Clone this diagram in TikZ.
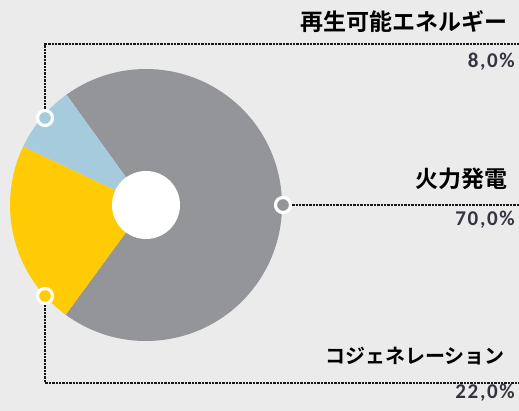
\documentclass[tikz,border=0pt]{standalone}
\usepackage{fontspec}
\newfontfamily\jpfont{Noto Sans CJK JP}[BoldFont={Noto Sans CJK JP Bold}]
\newfontfamily\pctfont{Carlito}[LetterSpace=8]
\definecolor{bg}{HTML}{EBEBEB}
\definecolor{pgray}{HTML}{939598}
\definecolor{pblue}{HTML}{A6CBDD}
\definecolor{pyellow}{HTML}{FFCB05}
\definecolor{pcttext}{HTML}{33343F}
\tikzset{
  lead/.style={line width=1.7pt, dash pattern=on 2.4pt off 1pt, black!90},
  marker/.style={circle, draw=white, line width=3.2pt, minimum size=15pt, inner sep=0pt},
  catlabel/.style={anchor=east, font=\jpfont\bfseries\fontsize{23}{26}\selectfont, inner sep=0pt},
  pctlabel/.style={anchor=east, font=\pctfont\bfseries\fontsize{21}{24}\selectfont, text=pcttext, inner sep=0pt}
}
\begin{document}
\begin{tikzpicture}[x=1pt,y=1pt]
\fill[bg] (0,0) rectangle (519,411);
\useasboundingbox (0,0) rectangle (519,411);
\coordinate (c) at (146,206);
% slices
\fill[pgray] (c) -- ++(-126.2:136) arc[start angle=-126.2, end angle=125.8, radius=136] -- cycle;
\fill[pblue] (c) -- ++(125.8:136) arc[start angle=125.8, end angle=154.6, radius=136] -- cycle;
\fill[pyellow] (c) -- ++(154.6:136) arc[start angle=154.6, end angle=233.8, radius=136] -- cycle;
\fill[white] (c) circle[radius=34];
% markers
\node[marker, fill=pblue] (mb) at (45,293) {};
\node[marker, fill=pgray] (mg) at (283,206) {};
\node[marker, fill=pyellow] (my) at (45,115) {};
% lead line ends
\coordinate (b1) at (45,367);
\coordinate (b2) at (519,367);
\coordinate (g2) at (519,206);
\coordinate (y1) at (45,28);
\coordinate (y2) at (519,28);
\draw[lead] (mb.north) -- (b1) -- (b2);
\draw[lead] (mg.east) -- (g2);
\draw[lead] (my.south) -- (y1) -- (y2);
% labels
\node[catlabel] (t1) at (508,389) {再生可能エネルギー};
\node[pctlabel] (p1) at (515,349) {8,0\%};
\node[catlabel] (t2) at (508,232) {火力発電};
\node[pctlabel] (p2) at (515,191) {70,0\%};
\node[catlabel, font=\jpfont\bfseries\fontsize{20}{24}\selectfont] (t3) at (505,55) {コジェネレーション};
\node[pctlabel] (p3) at (515,18) {22,0\%};
\end{tikzpicture}
\end{document}
